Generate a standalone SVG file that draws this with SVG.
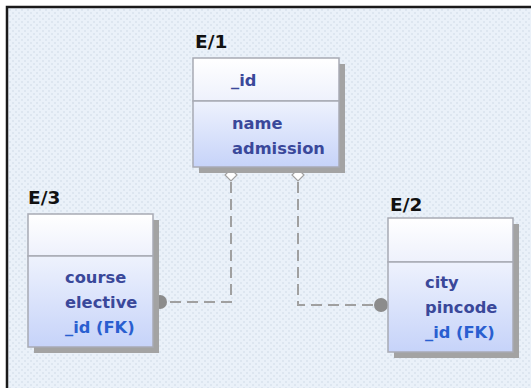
<svg xmlns="http://www.w3.org/2000/svg" width="531" height="388" viewBox="0 0 531 388">
  <defs>
    <pattern id="dots" width="6" height="6" patternUnits="userSpaceOnUse">
      <rect width="6" height="6" fill="#eaf1f9"/>
      <rect x="0" y="0" width="2" height="2" fill="#dde6f0"/>
      <rect x="3" y="3" width="2" height="2" fill="#dde6f0"/>
    </pattern>
    <linearGradient id="head" x1="0" y1="0" x2="0" y2="1">
      <stop offset="0" stop-color="#ffffff"/>
      <stop offset="1" stop-color="#eef1fc"/>
    </linearGradient>
    <linearGradient id="body" x1="0" y1="0" x2="0" y2="1">
      <stop offset="0" stop-color="#eef2fd"/>
      <stop offset="1" stop-color="#c6d3f9"/>
    </linearGradient>
    <style>
      .shadow { fill: #a3a3a3; }
      .box { stroke: #a8aab4; stroke-width: 1.5; }
      .title { font-family: "DejaVu Sans", "Liberation Sans", sans-serif; font-weight: bold; font-size: 18.5px; fill: #111; }
      .attr { font-family: "DejaVu Sans", "Liberation Sans", sans-serif; font-weight: bold; font-size: 16.3px; fill: #3a489a; }
      .fk { fill: #2a5fd0; }
      .link { fill: none; stroke: #a0a0a0; stroke-width: 2; stroke-dasharray: 11 6; }
      .dia { fill: #ffffff; stroke: #a0a0a0; stroke-width: 1.2; }
      .dot { fill: #8c8c8c; }
    </style>
  </defs>

  <!-- canvas -->
  <rect width="531" height="388" fill="#ffffff"/>
  <rect x="7" y="7" width="530" height="390" fill="url(#dots)" stroke="#1a1a1a" stroke-width="2.5"/>

  <!-- relationships -->
  <g id="connectors">
    <polyline class="link" points="231,182 231,302 166,302"/>
    <polyline class="link" points="298,182 298,305 375,305"/>
    <polygon class="dia" points="231,169 237,175 231,181 225,175"/>
    <polygon class="dia" points="298,169 304,175 298,181 292,175"/>
    <circle class="dot" cx="160" cy="302" r="7"/>
    <circle class="dot" cx="381" cy="305" r="7"/>
  </g>

  <!-- entity E/1 -->
  <g id="E1">
    <text class="title" x="195" y="48">E/1</text>
    <rect class="shadow" x="199" y="64" width="146" height="109"/>
    <rect class="box" x="193" y="58" width="146" height="43" fill="url(#head)"/>
    <rect class="box" x="193" y="101" width="146" height="66" fill="url(#body)"/>
    <text class="attr" x="231" y="86">_id</text>
    <text class="attr" x="232" y="129">name</text>
    <text class="attr" x="232" y="154">admission</text>
  </g>

  <!-- entity E/3 -->
  <g id="E3">
    <text class="title" x="28" y="204">E/3</text>
    <rect class="shadow" x="34" y="220" width="125" height="133"/>
    <rect class="box" x="28" y="214" width="125" height="42" fill="url(#head)"/>
    <rect class="box" x="28" y="256" width="125" height="91" fill="url(#body)"/>
    <text class="attr" x="65" y="283">course</text>
    <text class="attr" x="65" y="308">elective</text>
    <text class="attr fk" x="65" y="333">_id (FK)</text>
  </g>

  <!-- entity E/2 -->
  <g id="E2">
    <text class="title" x="390" y="211">E/2</text>
    <rect class="shadow" x="394" y="224" width="125" height="134"/>
    <rect class="box" x="388" y="218" width="125" height="44" fill="url(#head)"/>
    <rect class="box" x="388" y="262" width="125" height="90" fill="url(#body)"/>
    <text class="attr" x="425" y="288">city</text>
    <text class="attr" x="425" y="313">pincode</text>
    <text class="attr fk" x="425" y="338">_id (FK)</text>
  </g>
</svg>
